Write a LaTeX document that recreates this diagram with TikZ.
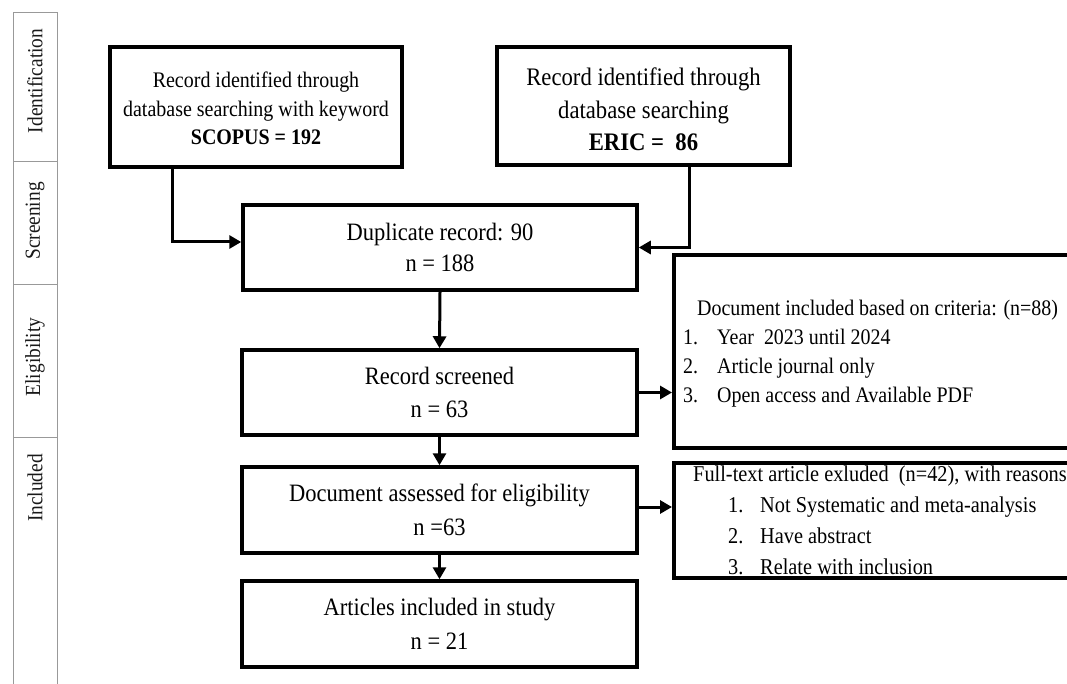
\documentclass[tikz,border=0pt]{standalone}
\usepackage{fontspec}
\setmainfont{Liberation Serif}[FakeStretch=0.9]
\newfontfamily\labelfont{Liberation Serif}[FakeStretch=0.9]
\usetikzlibrary{arrows.meta,positioning}
\tikzset{
  flowbox/.style={draw=black, line width=3.5pt, fill=white, inner sep=0pt, align=center},
  topfont/.style={font=\fontsize{22.2}{28.5}\selectfont},
  midfont/.style={font=\fontsize{25}{33.5}\selectfont},
  stagebox/.style={draw=gray!80, line width=1pt},
  stagelabel/.style={rotate=90, font=\labelfont\fontsize{21.5}{24}\selectfont, text=black!90},
  flowarrow/.style={line width=3pt, -{Triangle[length=12pt,width=13pt]}},
  listtext/.style={inner sep=0pt, align=left}
}
\begin{document}
\begin{tikzpicture}[x=1pt,y=-1pt]
\useasboundingbox (0,0) rectangle (1067,684);
\clip (0,0) rectangle (1067,684);
\fill[white] (0,0) rectangle (1067,684);

% stage column
\draw[stagebox] (13,13) rectangle (57,162);
\draw[stagebox] (13,162) rectangle (57,285);
\draw[stagebox] (13,285) rectangle (57,437);
\draw[stagebox] (13,437) rectangle (57,700);
\node[stagelabel] (sid) at (35,81) {Identification};
\node[stagelabel] (sscr) at (35,221) {Screening};
\node[stagelabel] (selig) at (35,357) {Eligibility};
\node[stagelabel] (sinc) at (35,488) {Included};

% flow boxes
\node[flowbox, minimum width=292pt, minimum height=120pt] (scopus) at (256,107) {};
\node[topfont, align=center, inner sep=0pt] (scopustext) at (256,108.5)
  {Record identified through\\database searching with keyword\\\textbf{SCOPUS = 192}};
\node[flowbox, minimum width=293pt, minimum height=118pt] (eric) at (643.5,106) {};
\node[font=\fontsize{25.2}{32.5}\selectfont, align=center, inner sep=0pt] (erictext) at (643.5,109.5)
  {Record identified through\\database searching\\\textbf{ERIC =\ \ 86}};
\node[flowbox, font=\fontsize{25}{31}\selectfont, minimum width=394pt, minimum height=85pt] (dup) at (440,247.5)
  {Duplicate record: 90\\n = 188};
\node[flowbox, midfont, minimum width=395pt, minimum height=85pt] (scr) at (439.5,392.5)
  {Record screened\\n = 63};
\node[flowbox, midfont, minimum width=395pt, minimum height=86pt] (ass) at (439.5,510)
  {Document assessed for eligibility\\n =63};
\node[flowbox, midfont, minimum width=395pt, minimum height=86pt] (art) at (439.5,624)
  {Articles included in study\\n = 21};

% side boxes (extend past right edge)
\node[flowbox, minimum width=420pt, minimum height=193pt, anchor=west] (crit) at (672,351.5) {};
\node[flowbox, minimum width=420pt, minimum height=115pt, anchor=west] (excl) at (672,520.5) {};

\node[listtext, anchor=west, font=\fontsize{22.2}{29}\selectfont] (crittext) at (683,353.5)
  {\hspace*{14pt}Document included based on criteria: (n=88)\\
   \makebox[34pt][l]{1.}Year\ \ 2023 until 2024\\
   \makebox[34pt][l]{2.}Article journal only\\
   \makebox[34pt][l]{3.}Open access and Available PDF};
\node[listtext, anchor=west, font=\fontsize{22.6}{31}\selectfont] (excltext) at (693,520)
  {Full-text article exluded\ \ (n=42), with reasons\\
   \hspace*{35pt}\makebox[32pt][l]{1.}Not Systematic and meta-analysis\\
   \hspace*{35pt}\makebox[32pt][l]{2.}Have abstract\\
   \hspace*{35pt}\makebox[32pt][l]{3.}Relate with inclusion};

% connectors
\coordinate (assout) at ([yshift=3pt]ass.east);
\draw[flowarrow] ([xshift=-84pt]scopus.south) |- ([yshift=5.5pt]dup.west);
\draw[flowarrow] ([xshift=45.5pt]eric.south) |- (dup.east);
\draw[flowarrow] (dup.south) -- (scr.north);
\draw[flowarrow] (scr.south) -- (ass.north);
\draw[flowarrow] (ass.south) -- (art.north);
\draw[flowarrow] (scr.east) -- (crit.west |- scr.east);
\draw[flowarrow] (assout) -- (excl.west |- assout);
\end{tikzpicture}
\end{document}
